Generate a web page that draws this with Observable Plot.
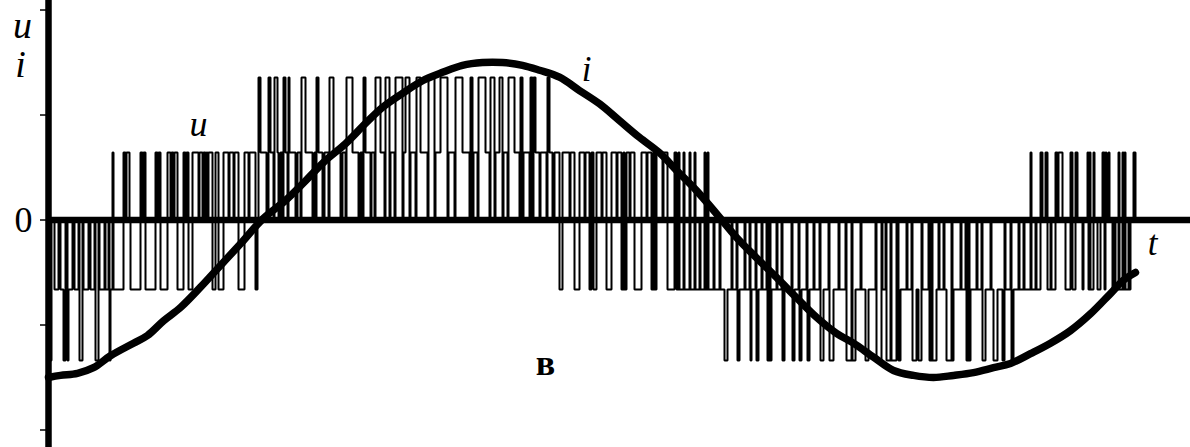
<!DOCTYPE html>
<html>
<head>
<meta charset="utf-8">
<script src="https://cdn.jsdelivr.net/npm/d3@7"></script>
<script src="https://cdn.jsdelivr.net/npm/@observablehq/plot@0.6"></script>
<style>
  html, body { margin: 0; padding: 0; background: #fff; overflow: hidden; }
  #chart svg { display: block; }
</style>
</head>
<body>
<div id="chart"></div>
<script>
// Inverter output voltage u (multilevel PWM) and load current i over one period.
// Time t is in sample steps; voltage levels are given as codes -2..2.

// Voltage value for each level code (-2, -1, 0, +1, +2)
const uLevels = [-2.007, -0.993, 0, 0.964, 2.036];

// Switching instants [t, level code] — level holds until the next instant
const switchesA = [[0,-2],[3,0],[6,-1],[10,0],[12,-1],[15,-2],[17,0],[19,-2],[20,-1],[24,0],[26,-1],[30,0],[31,-2],[34,0],[35,-1],[40,0],[42,-1],[46,0],[47,-2],[50,0],[51,-1],[56,0],[57,-1],[60,0],[61,-2],[62,-1]];
const switchesB = [[64,1],[65,-1],[75,1],[77,0],[78,1],[81,0],[82,-1],[92,1],[94,0],[95,1],[97,-1],[107,1],[109,0],[110,1],[112,-1],[119,1],[122,0],[123,1],[125,0],[126,1],[129,-1],[135,1],[137,0],[138,1],[140,-1],[144,1],[150,0],[151,1],[154,0],[155,1],[157,0],[158,1],[159,0],[160,1],[164,-1],[167,1],[170,-1],[175,1],[180,0],[181,1],[185,0],[186,1],[190,-1],[196,1],[200,0],[201,1],[207,-1],[209,0]];
const switchesC = [[210,2],[212,1],[218,0],[220,2],[222,1],[225,0],[226,2],[229,1],[230,0],[232,1],[234,0],[235,2],[237,1],[239,0],[240,2],[241,1],[247,0],[249,1],[252,0],[253,2],[257,1],[264,0],[266,1],[267,0],[268,2],[270,1],[274,0],[276,1],[280,0],[281,2],[285,1],[292,0],[294,1],[297,0],[298,2],[304,1],[310,0],[312,1],[314,0],[315,2],[317,1]];
const switchesD = [[322,0],[323,1],[326,0],[327,2],[332,1],[336,0],[337,2],[341,0],[342,1],[346,0],[347,2],[354,0],[355,1],[357,2],[361,0],[362,1],[367,0],[368,2],[372,1],[379,0],[380,2],[386,0],[387,1],[392,2],[399,0],[400,1],[406,0],[407,2],[414,1],[421,0],[422,2],[424,0],[425,1],[429,0],[430,2],[437,1],[441,0],[442,2],[446,0],[447,1],[451,2],[454,0],[455,1],[459,0],[460,2],[466,1],[471,0],[472,2],[474,0],[475,1],[481,0],[482,2],[484,0],[485,2],[487,1],[491,0],[492,1],[498,0],[499,2],[501,1]];
const switchesE = [[504,0],[506,1],[511,-1],[514,1],[521,0],[522,1],[526,-1],[531,1],[536,0],[537,1],[541,-1],[543,1],[545,-1],[548,1],[553,0],[554,1],[558,-1],[563,1],[568,0],[569,1],[573,-1],[575,1],[576,-1],[578,1],[581,0],[582,1],[586,-1],[593,1],[598,0],[599,1],[603,-1],[605,1],[606,-1],[608,1],[614,0],[615,1],[619,-1],[626,1],[628,-1],[630,1],[631,-1],[635,1],[636,-1],[641,1],[642,-1],[646,1],[647,-1],[651,0],[652,-1],[656,1],[657,-1],[659,1],[660,-1],[665,0],[666,-1],[671,0],[672,-1]];
const switchesF = [[676,-2],[679,-1],[683,0],[684,-1],[688,0],[689,-2],[691,-1],[696,0],[697,-1],[701,0],[702,-2],[703,-1],[707,0],[708,-2],[710,-1],[713,0],[714,-1],[718,0],[719,-2],[721,0],[722,-2],[723,-1],[728,0],[729,-1],[733,0],[734,-2],[736,-1],[743,0],[744,-2],[746,-1],[750,0],[751,-2],[753,-1],[758,0],[759,-2],[761,-1],[765,0],[766,-1],[771,0],[772,-2],[775,-1],[780,0],[781,-2],[785,-1]];
const switchesG = [[790,0],[791,-1],[797,0],[798,-2],[803,0],[804,-2],[807,-1],[812,0],[813,-1],[817,-2],[820,-1],[827,0],[828,-2],[833,0],[834,-1],[837,0],[838,-2],[842,0],[843,-2],[848,0],[850,-2],[852,-1],[858,0],[859,-1],[863,0],[864,-2],[868,-1],[870,-2],[873,0],[874,-1],[880,0],[881,-2],[883,0],[884,-2],[888,-1],[890,0],[891,-1],[895,0],[896,-1],[898,-2],[903,0],[904,-2],[905,-1],[912,0],[913,-1],[917,0],[918,-2],[920,0],[921,-2],[922,-1],[928,0],[929,-1],[933,0],[934,-2],[937,-1],[942,0],[943,-1]];
const switchesH = [[945,-2],[949,-1],[954,-2],[956,0],[957,-1],[962,0],[963,-2],[965,-1],[970,0],[971,-1],[975,0],[976,-1],[982,1],[983,-1],[987,0],[988,-1],[992,1],[994,0],[997,1],[999,-1],[1002,0],[1003,-1],[1007,1],[1009,0],[1010,1],[1014,0],[1017,-1],[1022,1],[1024,-1],[1027,1],[1029,0],[1034,-1],[1035,0],[1039,1],[1040,-1],[1041,1],[1042,-1],[1045,1],[1046,0],[1049,-1],[1052,0],[1054,1],[1056,-1],[1057,1],[1058,0],[1060,1],[1061,0],[1064,-1],[1066,0],[1067,-1],[1070,1],[1071,-1],[1074,1],[1075,-1],[1076,1],[1077,-1],[1080,0],[1081,-1],[1082,0],[1085,1],[1087,0]];

// Load current i, sampled along the period
const currentT = [0,12,29,45,62,85,99,115,132,152,172,192,214,237,257,277,297,317,334,354,374,394,414,434,454,474,491,511,531,551,571,591,611,628,648,668,688,708,728,748,768,788,805,825,845,865,885,905,925,945,962,982,1002,1022,1042,1062,1075,1087];
const currentI = [-2.25,-2.22,-2.19,-2.11,-1.94,-1.76,-1.65,-1.44,-1.25,-0.96,-0.65,-0.34,0.01,0.28,0.56,0.85,1.09,1.38,1.61,1.81,1.99,2.11,2.21,2.25,2.25,2.21,2.14,2.04,1.85,1.66,1.42,1.18,0.96,0.71,0.42,0.09,-0.25,-0.54,-0.82,-1.11,-1.39,-1.62,-1.76,-1.96,-2.15,-2.22,-2.25,-2.22,-2.18,-2.11,-2.05,-1.91,-1.76,-1.58,-1.34,-1.05,-0.86,-0.75];

// Axis ticks on the u/i axis
const yTicks = [-3, -1.5, 0, 1.5, 3];

// Curve and axis annotations
const labels = [
  {t: -26, v: 2.607, text: "u", size: 38},
  {t: -28, v: 2.036, text: "i", size: 38},
  {t: 150, v: 1.207, text: "u", size: 36},
  {t: 538, v: 1.993, text: "i", size: 35},
  {t: 1104, v: -0.507, text: "t", size: 35}
];
const originLabel = [{t: -16, v: 0, text: "0"}];
const panelMark = [{t: 497, v: -2.221, text: "в"}];

const uData = [switchesA, switchesB, switchesC, switchesD, switchesE, switchesF, switchesG, switchesH]
  .flat()
  .map(([t, code]) => ({t, u: uLevels[code + 2]}));
const iData = currentT.map((t, k) => ({t, i: currentI[k]}));

const serif = "'Liberation Serif', 'Times New Roman', serif";

const chart = Plot.plot({
  width: 1190,
  height: 447,
  marginLeft: 48,
  marginRight: 0,
  marginTop: 0,
  marginBottom: 0,
  x: {domain: [0, 1142], axis: null},
  y: {domain: [-3.25, 3.136], label: null},
  style: {background: "#fff", color: "#000"},
  marks: [
    Plot.axisY(yTicks, {
      tickSize: 8,
      strokeWidth: 1.5,
      tickFormat: () => "",
      label: null
    }),
    Plot.line(uData, {
      x: "t", y: "u", curve: "step-after",
      stroke: "#000", strokeWidth: 2, strokeLinejoin: "miter"
    }),
    Plot.ruleY([0], {stroke: "#000", strokeWidth: 6.5}),
    Plot.ruleX([0], {stroke: "#000", strokeWidth: 6.5}),
    Plot.line(iData, {
      x: "t", y: "i", curve: "catmull-rom",
      stroke: "#000", strokeWidth: 7.5, strokeLinejoin: "round"
    }),
    Plot.text(originLabel, {
      x: "t", y: "v", text: "text",
      fontSize: 36, fontFamily: serif,
      textAnchor: "end", lineAnchor: "middle", fill: "#000"
    }),
    Plot.text(labels, {
      x: "t", y: "v", text: "text",
      fontSize: (d) => d.size, fontStyle: "italic",
      fontFamily: serif, lineAnchor: "bottom", fill: "#000"
    }),
    Plot.text(panelMark, {
      x: "t", y: "v", text: "text",
      fontSize: 36, fontWeight: "bold",
      fontFamily: serif, lineAnchor: "bottom", fill: "#000"
    })
  ]
});

document.getElementById("chart").appendChild(chart);
</script>
</body>
</html>
